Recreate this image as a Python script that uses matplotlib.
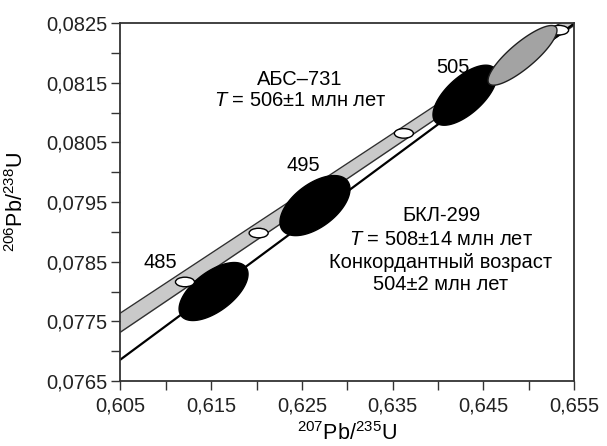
import numpy as np
import matplotlib
matplotlib.use('Agg')
import matplotlib.pyplot as plt
from matplotlib.patches import Ellipse
from matplotlib.ticker import MultipleLocator, FuncFormatter

plt.rcParams['font.family'] = ['Liberation Sans', 'DejaVu Sans']
plt.rcParams['mathtext.fontset'] = 'custom'
plt.rcParams['mathtext.rm'] = 'Liberation Sans'
plt.rcParams['mathtext.it'] = 'Liberation Sans:italic'
plt.rcParams['mathtext.default'] = 'regular'

# ── data ─────────────────────────────────────────────────────────────────────
# concordia band (grey) and lower line
band_x = [0.605, 0.655]
band_top = [0.07764, 0.08265]
band_bottom = [0.07732, 0.08246]
line_x = [0.605, 0.655]
line_y = [0.07686, 0.08249]

# БКЛ-299 (black error ellipses)
bkl_x = [0.61526, 0.62644, 0.64298]
bkl_y = [0.07800, 0.07944, 0.08129]
bkl_sx = [0.00380, 0.00386, 0.00353]
bkl_sy = [0.000486, 0.000503, 0.000503]
bkl_rho = [0.60, 0.55, 0.65]

# АБС-731 (grey error ellipse)
abs_x = 0.64932
abs_y = 0.081958
abs_sx = 0.0038
abs_sy = 0.00050
abs_rho = 0.84

# age markers on concordia (white)
mark_age = [485, 490, 500, 510]
mark_x = [0.61211, 0.62023, 0.63624, 0.65335]
mark_y = [0.07816, 0.07898, 0.08065, 0.08238]

# age labels
age_labels = ['485', '495', '505']
age_lab_x = [0.60936, 0.62512, 0.64166]
age_lab_y = [0.078494, 0.080115, 0.081762]

abs_text = ['АБС–731', '$\\mathit{T}$ = 506±1 млн лет']
abs_text_y = [0.081556, 0.081204]
bkl_text = ['БКЛ-299', '$\\mathit{T}$ = 508±14 млн лет',
            'Конкордантный возраст', '504±2 млн лет']
bkl_text_y = [0.079277, 0.078875, 0.078489, 0.078121]

x_ticks = [0.605, 0.615, 0.625, 0.635, 0.645, 0.655]
y_ticks = [0.0765, 0.0775, 0.0785, 0.0795, 0.0805, 0.0815, 0.0825]


def err_ellipse(cx, cy, sx, sy, rho, n=200):
    t = np.linspace(0, 2 * np.pi, n)
    d = np.arccos(rho)
    return cx + sx * np.cos(t), cy + sy * np.cos(t - d)


fig = plt.figure(figsize=(6.07, 4.46), dpi=100)
ax = fig.add_axes([0.1985, 0.1457, 0.7472, 0.8027])

ax.fill_between(band_x, band_bottom, band_top, color='#c9c9c9', lw=0, zorder=1)
ax.plot(band_x, band_top, color='#303030', lw=1.0, zorder=2)
ax.plot(band_x, band_bottom, color='#303030', lw=1.0, zorder=2)
ax.plot(line_x, line_y, color='black', lw=1.6, zorder=2)

for cx, cy, sx, sy, r in zip(bkl_x, bkl_y, bkl_sx, bkl_sy, bkl_rho):
    ex, ey = err_ellipse(cx, cy, sx, sy, r)
    ax.fill(ex, ey, color='black', zorder=3)

for mx, my in zip(mark_x, mark_y):
    ax.add_patch(Ellipse((mx, my), 0.0021, 0.00016, facecolor='white',
                         edgecolor='black', lw=1.0, zorder=4))

ex, ey = err_ellipse(abs_x, abs_y, abs_sx, abs_sy, abs_rho)
ax.fill(ex, ey, facecolor='#a3a3a3', edgecolor='#202020', lw=1.0, zorder=5)

for lab, lx, ly in zip(age_labels, age_lab_x, age_lab_y):
    ax.text(lx, ly, lab, ha='center', va='center', fontsize=14.5, zorder=6)

for s, ty in zip(abs_text, abs_text_y):
    ax.text(0.62479, ty, s, ha='center', va='center', fontsize=14.5)
for s, ty in zip(bkl_text, bkl_text_y):
    ax.text(0.64034, ty, s, ha='center', va='center', fontsize=14.5)

ax.set_xlim(0.605, 0.655)
ax.set_ylim(0.0765, 0.0825)
ax.set_xticks(x_ticks)
ax.set_yticks(y_ticks)
ax.xaxis.set_minor_locator(MultipleLocator(0.005))
ax.yaxis.set_minor_locator(MultipleLocator(0.0005))
ax.xaxis.set_major_formatter(FuncFormatter(lambda v, p: f'{v:.3f}'.replace('.', ',')))
ax.yaxis.set_major_formatter(FuncFormatter(lambda v, p: f'{v:.4f}'.replace('.', ',')))
ax.tick_params(which='both', direction='out', length=6.5, width=1.0,
               color='#333333', labelsize=14.5, labelcolor='#222222')
ax.tick_params(axis='x', pad=5)
ax.tick_params(axis='y', pad=3)
for s in ax.spines.values():
    s.set_color('#333333')
    s.set_linewidth(1.3)

ax.set_xlabel('$^{207}$Pb/$^{235}$U', fontsize=15.5)
ax.set_ylabel('$^{206}$Pb/$^{238}$U', fontsize=15.5)
ax.xaxis.set_label_coords(0.5, -0.115)
ax.yaxis.set_label_coords(-0.205, 0.5)

fig.savefig('out.png', dpi=100)
